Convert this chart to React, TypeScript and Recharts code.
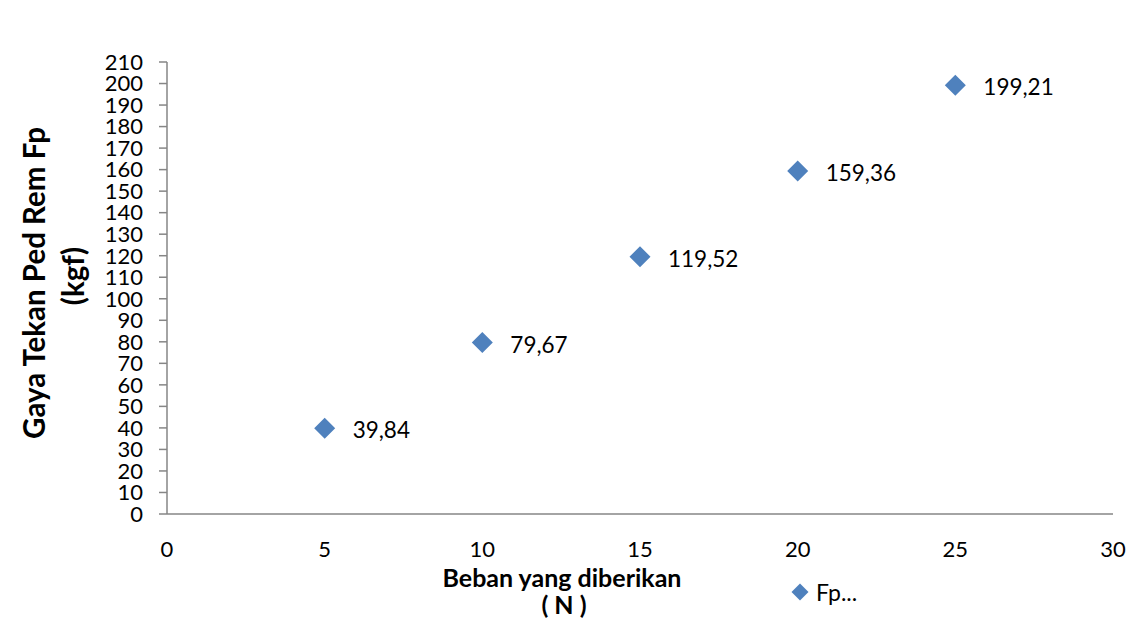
import { ScatterChart, Scatter, XAxis, YAxis, Label, Legend } from "recharts"

// ── Data ───────────────────────────────────────────────────────────────────

const BEBAN = [5, 10, 15, 20, 25]
const FP = [39.84, 79.67, 119.52, 159.36, 199.21]
const X_TICKS = [0, 5, 10, 15, 20, 25, 30]
const Y_TICKS = [
  0, 10, 20, 30, 40, 50, 60, 70, 80, 90, 100,
  110, 120, 130, 140, 150, 160, 170, 180, 190, 200, 210,
]

const points = BEBAN.map((x, i) => ({ x, y: FP[i] }))

// ── Styles ─────────────────────────────────────────────────────────────────

const FONT = "Lato, 'Open Sans', sans-serif"
const MARKER = "#4F81BD"
const AXIS = "#868686"
const W = 1141
const H = 627

const fmt = (v: number) => v.toFixed(2).replace(".", ",")

// diamond marker + its value label to the right (Excel style)
function DiamondPoint(props: any) {
  const { cx, cy, payload } = props
  const r = 10.5
  return (
    <g>
      <polygon
        points={`${cx},${cy - r} ${cx + r},${cy} ${cx},${cy + r} ${cx - r},${cy}`}
        fill={MARKER}
      />
      <text x={cx + 28} y={cy + 10} fontFamily={FONT} fontSize={22.5} fill="#000">
        {fmt(payload.y)}
      </text>
    </g>
  )
}

function YTitle({ viewBox }: any) {
  const x = viewBox.x - 62
  const y = viewBox.y + 221
  return (
    <g>
      {/* chart frame: only its left and top edges fall inside the picture */}
      <path d={`M7 ${H} L7 5 L${W} 5`} fill="none" stroke={AXIS} strokeWidth={2} />
      <g transform={`translate(${x}, ${y}) rotate(-90)`} fontFamily={FONT} fontWeight="bold" fontSize={29.5}>
        <text x={0} y={0} textAnchor="middle" fill="#000">Gaya Tekan Ped Rem Fp</text>
        <text x={7} y={39} textAnchor="middle" fill="#000">(kgf)</text>
      </g>
    </g>
  )
}

function XTitle({ viewBox }: any) {
  const x = viewBox.x + 395
  const y = viewBox.y + 73
  return (
    <g fontFamily={FONT} fontWeight="bold" fontSize={25}>
      <text x={x} y={y} textAnchor="middle" fill="#000">Beban yang diberikan</text>
      <text x={x + 2} y={y + 27} textAnchor="middle" fill="#000">( N )</text>
    </g>
  )
}

function LegendContent({ payload }: any) {
  return (
    <div style={{ display: "flex", alignItems: "center", fontFamily: FONT, fontSize: 23 }}>
      {(payload || []).map((entry: any) => (
        <div key={entry.value} style={{ display: "flex", alignItems: "center" }}>
          <svg width={18} height={18} style={{ marginRight: 7 }}>
            <polygon points="9,0.5 17.5,9 9,17.5 0.5,9" fill={MARKER} />
          </svg>
          <span>{entry.value}</span>
        </div>
      ))}
    </div>
  )
}

export default function App() {
  return (
    <div style={{ position: "relative", width: W, height: H, marginLeft: -8, marginTop: -8, overflow: "hidden", background: "#fff" }}>
      <ScatterChart
        width={W}
        height={H}
        margin={{ top: 62, right: 28, bottom: 83, left: 107 }}
      >
        <XAxis
          type="number"
          dataKey="x"
          domain={[0, 30]}
          ticks={X_TICKS}
          interval={0}
          height={30}
          tickLine={false}
          tickSize={0}
          tickMargin={27}
          axisLine={{ stroke: AXIS, strokeWidth: 1.5 }}
          tick={{ fill: "#000", fontSize: 22, fontFamily: FONT }}
        >
          <Label content={<XTitle />} />
        </XAxis>
        <YAxis
          type="number"
          dataKey="y"
          domain={[0, 210]}
          ticks={Y_TICKS}
          interval={0}
          width={60}
          tickSize={8}
          tickMargin={16}
          axisLine={{ stroke: AXIS, strokeWidth: 1.5 }}
          tickLine={{ stroke: AXIS, strokeWidth: 1.5 }}
          tick={{ fill: "#000", fontSize: 22, fontFamily: FONT }}
        >
          <Label content={<YTitle />} />
        </YAxis>
        <Legend
          layout="horizontal"
          verticalAlign="middle"
          align="center"
          content={<LegendContent />}
          wrapperStyle={{ left: 791, top: 578, width: 120, height: 26 }}
        />
        <Scatter
          name="Fp..."
          data={points}
          fill={MARKER}
          shape={<DiamondPoint />}
          isAnimationActive={false}
        />
      </ScatterChart>
    </div>
  )
}
